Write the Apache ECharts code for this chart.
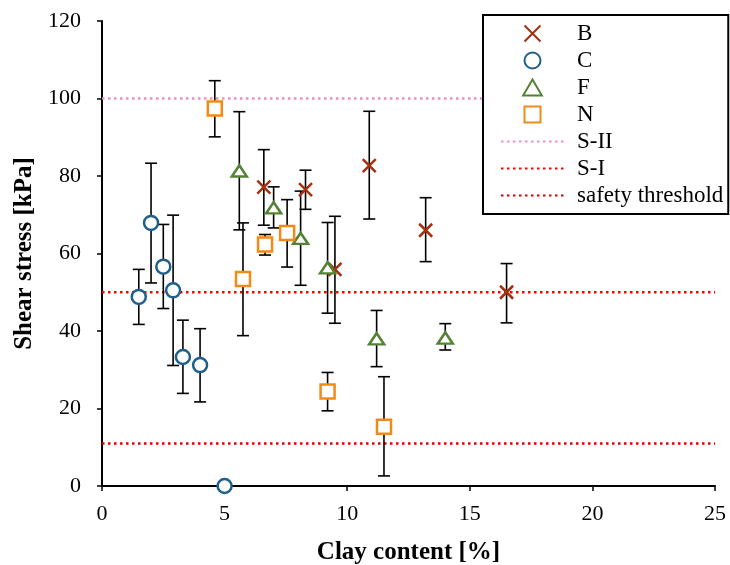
<!DOCTYPE html>
<html>
<head>
<meta charset="utf-8">
<script src="https://cdn.jsdelivr.net/npm/echarts@6/dist/echarts.min.js"></script>
<style>
  html, body { margin: 0; background: #fff; }
  #main { width: 730px; height: 565px; }
</style>
</head>
<body>
<div id="main"></div>
<script>
// group B
var bClay  = [6.6, 8.3, 9.5, 10.9, 13.2, 16.5];
var bShear = [77.1, 76.5, 55.9, 82.7, 66.0, 50.0];
var bLow   = [67.3, 71.4, 42.0, 68.9, 57.9, 42.1];
var bHigh  = [86.8, 81.5, 69.6, 96.7, 74.4, 57.4];
// group C
var cClay  = [1.5, 2.0, 2.5, 2.9, 3.3, 4.0, 5.0];
var cShear = [48.8, 67.9, 56.6, 50.5, 33.3, 31.2, 0];
var cLow   = [41.7, 52.4, 45.8, 31.1, 23.9, 21.7, 0];
var cHigh  = [55.9, 83.3, 67.5, 69.9, 42.8, 40.6, 0];
// group F
var fClay  = [5.6, 7.0, 8.1, 9.2, 11.2, 14.0];
var fShear = [81.3, 71.8, 63.9, 56.3, 38.0, 38.2];
var fLow   = [66.1, 66.6, 51.8, 44.6, 30.8, 35.1];
var fHigh  = [96.6, 77.2, 76.1, 68.0, 45.3, 41.9];
// group N
var nClay  = [4.6, 5.75, 6.65, 7.55, 9.2, 11.5];
var nShear = [97.4, 53.4, 62.3, 65.3, 24.4, 15.3];
var nLow   = [90.1, 38.8, 59.6, 56.5, 19.4, 2.6];
var nHigh  = [104.6, 67.9, 64.9, 73.9, 29.3, 28.2];
// reference levels
var levelSII = 100;
var levelSI = 50;
var levelSafety = 11;
var xTicks = [0, 5, 10, 15, 20, 25];
var yTicks = [0, 20, 40, 60, 80, 100, 120];

var font = 'Liberation Serif';

function points(xs, ys) {
  return xs.map(function (x, i) { return [x, ys[i]]; });
}
function bars(xs, lo, hi) {
  return xs.map(function (x, i) { return [x, lo[i], hi[i]]; });
}

function renderBar(params, api) {
  var top = api.coord([api.value(0), api.value(2)]);
  var bot = api.coord([api.value(0), api.value(1)]);
  var hw = 6;
  var st = { stroke: '#000', lineWidth: 1.6 };
  return {
    type: 'group',
    children: [
      { type: 'line', shape: { x1: top[0], y1: top[1], x2: bot[0], y2: bot[1] }, style: st },
      { type: 'line', shape: { x1: top[0] - hw, y1: top[1], x2: top[0] + hw, y2: top[1] }, style: st },
      { type: 'line', shape: { x1: bot[0] - hw, y1: bot[1], x2: bot[0] + hw, y2: bot[1] }, style: st }
    ]
  };
}

function errSeries(data) {
  return { type: 'custom', renderItem: renderBar, data: data, z: 2, silent: true };
}
function dotLine(name, level, color) {
  return {
    name: name, type: 'line', data: [[0, level], [25, level]],
    symbol: 'none', z: 1, silent: true,
    lineStyle: { color: color, width: 2.5, type: [2.5, 3.5] },
    itemStyle: { color: color }
  };
}
function marks(name, data, symbol, color, size, fill) {
  return {
    name: name, type: 'scatter', data: data, symbol: symbol, symbolSize: size, z: 3,
    symbolKeepAspect: true,
    itemStyle: { color: fill, borderColor: color, borderWidth: 2.5, opacity: 1 }
  };
}
var hidden = { opacity: 0 };

var chart = echarts.init(document.getElementById('main'));
chart.setOption({
  animation: false,
  textStyle: { fontFamily: font },
  grid: { left: 102, right: 15, top: 21, bottom: 79, outerBoundsMode: 'none' },
  legend: {
    data: ['B', 'C', 'F', 'N',
      { name: 'S-II', itemStyle: hidden },
      { name: 'S-I', itemStyle: hidden },
      { name: 'safety threshold', itemStyle: hidden }],
    orient: 'vertical', left: 483, top: 15,
    itemWidth: 63, itemHeight: 16, itemGap: 4,
    padding: [7, 5, 7, 17],
    symbolKeepAspect: true,
    backgroundColor: '#fff', borderColor: '#000', borderWidth: 2,
    textStyle: { fontFamily: font, fontSize: 23, color: '#000', padding: [0, 0, 0, 8] }
  },
  xAxis: {
    type: 'value', min: 0, max: 25, interval: 5,
    name: 'Clay content [%]', nameLocation: 'middle', nameGap: 54,
    nameTextStyle: { fontFamily: font, fontSize: 25, fontWeight: 'bold', color: '#000' },
    axisLine: { lineStyle: { color: '#000', width: 2 } },
    axisTick: { show: true, length: 5, lineStyle: { color: '#000', width: 1.5 } },
    axisLabel: { fontFamily: font, fontSize: 22, color: '#000', margin: 17,
      formatter: function (v) { return xTicks.indexOf(v) >= 0 ? String(v) : ''; } },
    splitLine: { show: false }
  },
  yAxis: {
    type: 'value', min: 0, max: 120, interval: 20,
    name: 'Shear stress [kPa]', nameLocation: 'middle', nameGap: 64,
    nameTextStyle: { fontFamily: font, fontSize: 25, fontWeight: 'bold', color: '#000' },
    axisLine: { show: true, lineStyle: { color: '#000', width: 2 } },
    axisTick: { show: true, length: 5, lineStyle: { color: '#000', width: 1.5 } },
    axisLabel: { fontFamily: font, fontSize: 22, color: '#000', margin: 21,
      formatter: function (v) { return yTicks.indexOf(v) >= 0 ? String(v) : ''; } },
    splitLine: { show: false }
  },
  series: [
    dotLine('S-II', levelSII, '#F08CCB'),
    dotLine('S-I', levelSI, '#FF0000'),
    dotLine('safety threshold', levelSafety, '#E00000'),
    errSeries(bars(bClay, bLow, bHigh)),
    errSeries(bars(cClay, cLow, cHigh)),
    errSeries(bars(fClay, fLow, fHigh)),
    errSeries(bars(nClay, nLow, nHigh)),
    marks('B', points(bClay, bShear), 'path://M0,0L10,10M0,10L10,0', '#A3300F', 13, '#A3300F'),
    marks('C', points(cClay, cShear), 'circle', '#1F5F8C', 14, '#fff'),
    marks('F', points(fClay, fShear), 'path://M7,0L14,12L0,12Z', '#548235', [15, 13], '#fff'),
    marks('N', points(nClay, nShear), 'path://M0,0L10,0L10,10L0,10Z', '#F28A18', 14, '#fff')
  ]
});
</script>
</body>
</html>
